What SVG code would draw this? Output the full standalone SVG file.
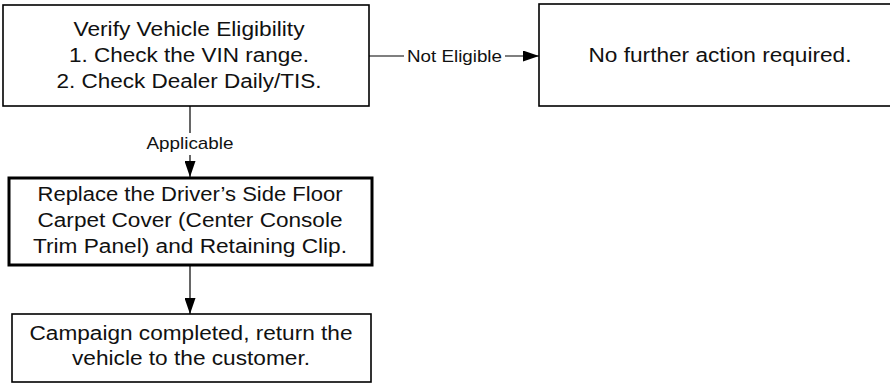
<svg xmlns="http://www.w3.org/2000/svg" width="890" height="383" viewBox="0 0 890 383">
<style>
.box{fill:#fff;stroke:#000;stroke-width:1.6}
.thick{stroke-width:3}
.t{font-family:"Liberation Sans",Arial,sans-serif;font-size:19.5px;fill:#111;text-anchor:middle}
.lbl{font-family:"Liberation Sans",Arial,sans-serif;font-size:17px;fill:#111;text-anchor:middle}
.conn{stroke:#000;stroke-width:1.2;fill:none}
.bg{fill:#fff}
</style>
<defs>
<marker id="arr" markerUnits="userSpaceOnUse" markerWidth="16" markerHeight="11" refX="16" refY="5.5" orient="auto">
<path d="M0,0 L16,5.5 L0,11 z" fill="#000"/>
</marker>
</defs>
<rect width="890" height="383" fill="#fff"/>
<g id="connectors">
<path class="conn" d="M369,56 H539" marker-end="url(#arr)"/>
<rect class="bg" x="404" y="45" width="101" height="20"/>
<text class="lbl" x="454.5" y="61.5" textLength="95" lengthAdjust="spacingAndGlyphs">Not Eligible</text>
<path class="conn" d="M190,106 V177" marker-end="url(#arr)"/>
<rect class="bg" x="144" y="133" width="92" height="22"/>
<text class="lbl" x="190" y="148.5" textLength="87" lengthAdjust="spacingAndGlyphs">Applicable</text>
<path class="conn" d="M190,265 V314" marker-end="url(#arr)"/>
</g>
<g id="verify">
<rect class="box" x="3" y="5" width="366" height="101"/>
<text class="t" x="189" y="36" textLength="231" lengthAdjust="spacingAndGlyphs">Verify Vehicle Eligibility</text>
<text class="t" x="189" y="62" textLength="240" lengthAdjust="spacingAndGlyphs">1. Check the VIN range.</text>
<text class="t" x="189" y="88" textLength="265" lengthAdjust="spacingAndGlyphs">2. Check Dealer Daily/TIS.</text>
</g>
<g id="no-action">
<rect class="box" x="539" y="4" width="360" height="102"/>
<text class="t" x="720" y="62" textLength="263" lengthAdjust="spacingAndGlyphs">No further action required.</text>
</g>
<g id="replace">
<rect class="box thick" x="9" y="178" width="363" height="87"/>
<text class="t" x="190" y="201" textLength="305" lengthAdjust="spacingAndGlyphs">Replace the Driver’s Side Floor</text>
<text class="t" x="190" y="227" textLength="305" lengthAdjust="spacingAndGlyphs">Carpet Cover (Center Console</text>
<text class="t" x="190" y="253" textLength="314" lengthAdjust="spacingAndGlyphs">Trim Panel) and Retaining Clip.</text>
</g>
<g id="complete">
<rect class="box" x="12" y="314" width="359" height="68"/>
<text class="t" x="191" y="340" textLength="323" lengthAdjust="spacingAndGlyphs">Campaign completed, return the</text>
<text class="t" x="191" y="365" textLength="238" lengthAdjust="spacingAndGlyphs">vehicle to the customer.</text>
</g>
</svg>
